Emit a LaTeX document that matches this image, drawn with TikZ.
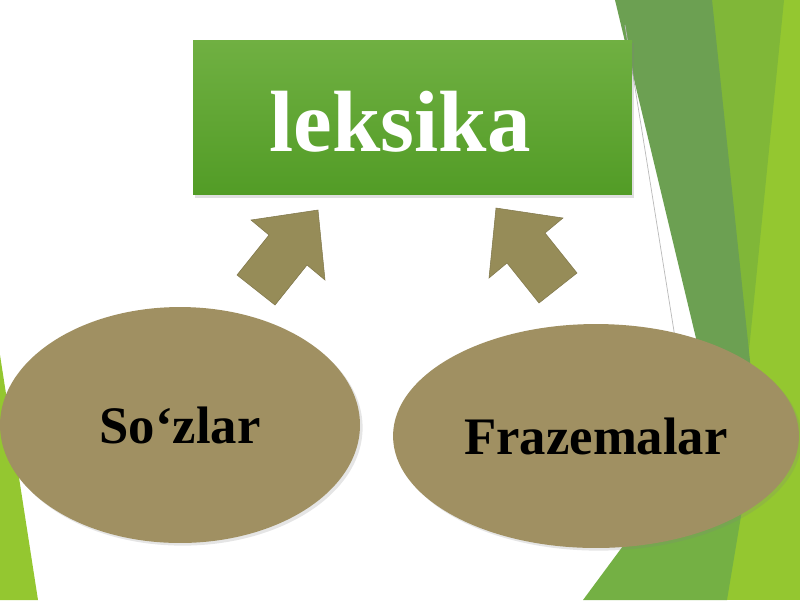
\documentclass[tikz,border=0pt]{standalone}
\usepackage{fontspec}
\setmainfont{Liberation Serif}
\definecolor{facetdark}{RGB}{108, 160, 82}
\definecolor{facetmid}{RGB}{128, 183, 56}
\definecolor{facetlime}{RGB}{148, 199, 48}
\definecolor{facetlow}{RGB}{116, 176, 68}
\definecolor{boxtop}{RGB}{112, 176, 66}
\definecolor{boxbottom}{RGB}{82, 156, 38}
\definecolor{ovalkhaki}{RGB}{160, 144, 98}
\definecolor{arrowolive}{RGB}{150, 140, 88}
\usetikzlibrary{shapes.geometric, shadows}

\begin{document}
\begin{tikzpicture}[x=0.02cm, y=-0.02cm,
  lexbox/.style={rectangle, top color=boxtop, bottom color=boxbottom, minimum width=8.78cm, minimum height=3.1cm,
    drop shadow={shadow xshift=1pt, shadow yshift=-1.5pt, opacity=0.25}},
  oval/.style={ellipse, fill=ovalkhaki, inner sep=0pt, font=\fontsize{30}{34}\selectfont\bfseries,
    drop shadow={shadow xshift=1.5pt, shadow yshift=-1.5pt, opacity=0.2}},
  upshape/.style={fill=arrowolive, draw=arrowolive!85!black, line width=0.3pt}]
  \useasboundingbox (0,0) rectangle (800,600);
  \clip (0,0) rectangle (800,600);

  % Facet background
  \fill[white] (0,0) rectangle (800,600);
  \fill[facetlime] (0,355) -- (38,600) -- (0,600) -- cycle;
  \fill[facetlime] (700,0) -- (800,0) -- (800,600) -- (700,600) -- cycle;
  \fill[facetmid] (706,0) -- (784,0) -- (748,360) -- cycle;
  \fill[facetdark] (615,0) -- (712,0) -- (752,380) -- (706,380) -- cycle;
  \fill[facetlow] (583,600) -- (694,450) -- (752,450) -- (727,600) -- cycle;
  \draw[gray!55, line width=0.4pt] (625,25) -- (677,350);

  % Top box
  \node[lexbox] (lex) at (412.5,117.5) {};
  \node[font=\fontsize{49.5}{55}\selectfont\bfseries, text=white] (lexlabel) at (400,122) {leksika};

  % Block arrows
  \fill[upshape] (237,275) -- (269,235) -- (251,220) -- (318,210) -- (325,280) -- (307,265) -- (275,305) -- cycle;
  \fill[upshape] (577,273) -- (545,233) -- (563,218) -- (496,208) -- (489,278) -- (507,263) -- (539,303) -- cycle;

  % Ovals
  \node[oval, minimum width=7.2cm, minimum height=4.72cm] (sozlar) at (180,425) {So‘zlar};
  \node[oval, minimum width=8.12cm, minimum height=4.48cm] (frazema) at (596,436) {Frazemalar};
\end{tikzpicture}
\end{document}
